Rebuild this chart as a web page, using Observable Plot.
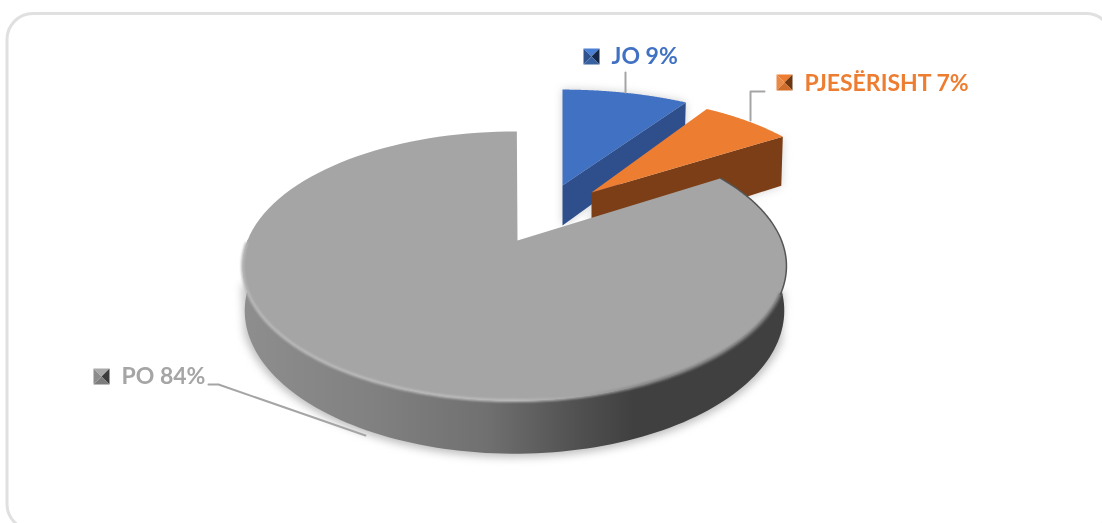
<!DOCTYPE html>
<html><head><meta charset="utf-8">
<script src="https://cdn.jsdelivr.net/npm/d3@7"></script>
<script src="https://cdn.jsdelivr.net/npm/@observablehq/plot@0.6"></script>
<style>html,body{margin:0;padding:0;background:#fff;overflow:hidden}</style>
</head><body><div id="chart"></div>
<script>
// Data
const categories = ["JO", "PJESËRISHT", "PO"];
const shares = [9, 7, 84];
const faceColors = ["#4071c2", "#ed7d31", "#a5a5a5"];
const cutColors = ["#2f4f8c", "#7b3e17", "#606060"];
const markerShades = [
  ["#4a7fd6", "#2f528f", "#16284a", "#38619f"],
  ["#ed7d31", "#e98a47", "#6e3712", "#d06d2a"],
  ["#a9a9a9", "#8c8c8c", "#3c3c3c", "#7d7d7d"]
];

// 3D view of the disc (perspective), layout only
const view = {k: 0.19, f: 267, g: 129.7};
const layout = [
  {ax: 562, ay: 185, cx: 562, cy: 185, sx: 1, sy: 0.88, h: 40, rot: 0},
  {ax: 591, ay: 192, cx: 591, cy: 192, sx: 0.935, sy: 0.885, h: 54, rot: 0},
  {ax: 517, ay: 240, cx: 514, cy: 240, sx: 1, sy: 1, h: 43, rot: 0.6}
];
const labelPos = [
  {x: 611, y: 56, mx: 591, my: 56},
  {x: 804, y: 83, mx: 784, my: 82},
  {x: 121, y: 376, mx: 101, my: 376}
];
const leaders = [
  [[625, 72], [625, 92]],
  [[764, 91], [750, 91], [750, 120]],
  [[208, 384], [218, 384], [365, 435]]
];

const rad = d => d * Math.PI / 180;
// angular extents from the values
let acc = 0;
const slices = categories.map((name, i) => {
  const a0 = acc * 3.6; acc += shares[i]; const a1 = acc * 3.6;
  return {name, share: shares[i], a0, a1, ...layout[i], i};
});
function rim(s, deg) {
  const t = rad(deg + s.rot), u = Math.sin(t), v = Math.cos(t), w = 1 + view.k * v;
  return {x: s.cx + s.sx * view.f * u / w, y: s.cy - s.sy * view.g * v / w, w};
}
function down(s, p) {
  return {x: s.cx + (p.x - s.cx) * 0.992, y: p.y + s.h / p.w};
}
const steps = (a, b) => d3.range(0, 121).map(n => a + (b - a) * n / 120);
const apex = s => ({x: s.ax, y: s.ay});
const apexDown = s => ({x: s.ax, y: s.ay + s.h});
const face = s => [apex(s), ...steps(s.a0, s.a1).map(a => rim(s, a))];
const cutWall = s => { const e = rim(s, s.a1); return [apex(s), e, down(s, e), apexDown(s)]; };
const po = slices[2];
const wallBetween = (a, b) => {
  const top = steps(a, b).map(t => rim(po, t));
  return [...top, ...top.map(p => down(po, p)).reverse()];
};
const frontWall = wallBetween(90, 270);
const shadowWall = wallBetween(112, 250).map(p => ({x: p.x, y: p.y}));
const bevelLine = steps(112, 268).map(a => rim(po, a));
const darkEdge = steps(po.a0, 112).map(a => rim(po, a));

const poly = (pts, fill, extra = {}) => Plot.line(pts, {x: "x", y: "y", fill, stroke: "none", curve: "linear-closed", ...extra});

function defs() {
  const d = d3.create("svg:defs");
  const grad = (id, x1, x2, stops) => {
    const g = d.append("linearGradient").attr("id", id).attr("gradientUnits", "userSpaceOnUse")
      .attr("x1", x1).attr("x2", x2).attr("y1", 0).attr("y2", 0);
    stops.forEach(([o, c]) => g.append("stop").attr("offset", o).attr("stop-color", c));
  };
  grad("wallGrad", 241, 786, [[0, "#8e8e8e"], [0.25, "#808080"], [0.45, "#707070"], [0.62, "#505050"], [0.72, "#404040"], [1, "#404040"]]);
  grad("bevelGrad", 241, 786, [[0, "#b8b8b8"], [0.5, "#bcbcbc"], [0.62, "#a5a5a5"], [0.75, "#808080"], [1, "#6a6a6a"]]);
  return d.node();
}

const markerTris = slices.flatMap((s, i) => {
  const {mx, my} = labelPos[i], r = 8, c = {x: mx, y: my};
  const tl = {x: mx - r, y: my - r}, tr = {x: mx + r, y: my - r}, br = {x: mx + r, y: my + r}, bl = {x: mx - r, y: my + r};
  return [[tl, tr], [tl, bl], [tr, br], [bl, br]].map(([a, b], k) => poly([a, b, c], markerShades[i][k]));
});

const chart = Plot.plot({
  width: 1102, height: 523, margin: 0,
  x: {type: "identity"}, y: {type: "identity"}, axis: null,
  style: {background: "#fff", filter: "blur(0.5px)"},
  marks: [
    defs,
    Plot.rect([{}], {x1: () => 7, x2: () => 1112, y1: () => 13.5, y2: () => 530, rx: 26, fill: "#fff", stroke: "#e0e0e0", strokeWidth: 3}),
    // shadows
    poly([...face(slices[0]), ...cutWall(slices[0])], "#cfcfcf", {imageFilter: "blur(4px)"}),
    poly(shadowWall, "#bdbdbd", {stroke: "#bdbdbd", strokeWidth: 7, imageFilter: "blur(4px)"}),
    poly(cutWall(slices[1]), "#d4d4d4", {imageFilter: "blur(5px)"}),
    // JO
    poly(cutWall(slices[0]), cutColors[0]),
    poly(face(slices[0]), faceColors[0]),
    // PJESËRISHT
    poly(cutWall(slices[1]), cutColors[1]),
    poly(face(slices[1]), faceColors[1]),
    // PO
    poly(frontWall, "url(#wallGrad)"),
    poly(face(po), faceColors[2]),
    Plot.line(bevelLine, {x: "x", y: "y", stroke: "url(#bevelGrad)", strokeWidth: 3, imageFilter: "blur(1.2px)"}),
    Plot.line(darkEdge, {x: "x", y: "y", stroke: "#555", strokeWidth: 1.5, imageFilter: "blur(0.7px)"}),
    // leaders
    ...leaders.map(l => Plot.line(l, {x: d => d[0], y: d => d[1], stroke: "#a5a5a5", strokeWidth: 2})),
    // legend markers
    ...markerTris,
    // labels
    Plot.text(slices, {
      x: (d, i) => labelPos[i].x, y: (d, i) => labelPos[i].y,
      text: d => `${d.name} ${d.share}%`, fill: d => faceColors[d.i],
      textAnchor: "start", fontWeight: 700, fontSize: 23, fontFamily: "Lato", lineAnchor: "middle"
    })
  ]
});
document.getElementById("chart").appendChild(chart);
</script></body></html>
